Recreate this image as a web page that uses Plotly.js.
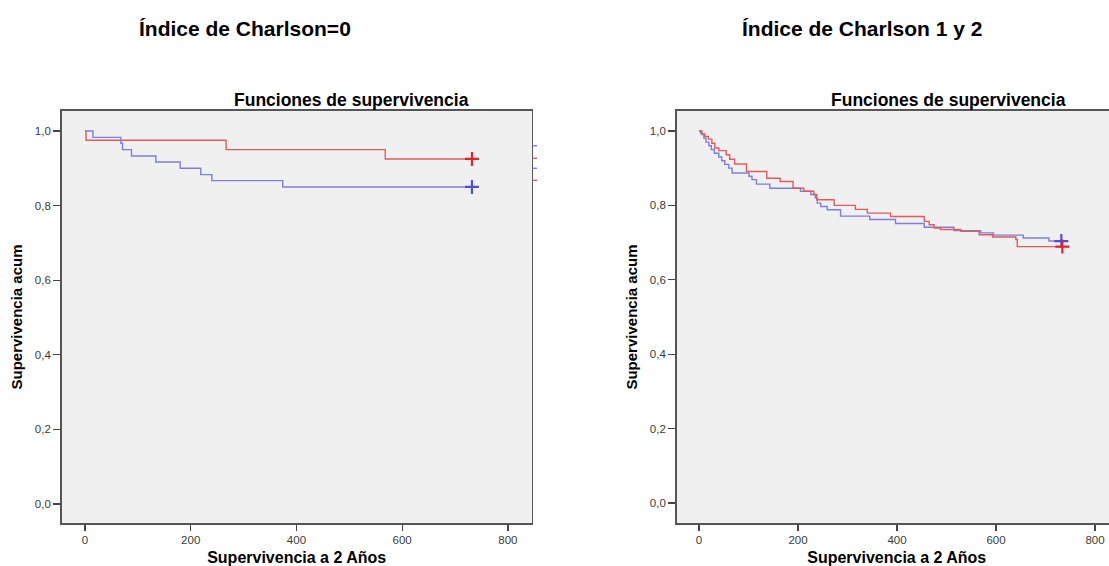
<!DOCTYPE html>
<html>
<head>
<meta charset="utf-8">
<script src="https://cdn.plot.ly/plotly-3.0.1.min.js"></script>
<style>
  html, body { margin: 0; padding: 0; background: #ffffff; overflow: hidden; }
  #chart { width: 1125px; height: 566px; }
</style>
</head>
<body>
<div id="chart"></div>
<script>
// Kaplan-Meier survival curves (days of follow-up, cumulative survival)

// Panel 1: Charlson index = 0
const c0RedDays = [0, 2, 267, 568, 732];
const c0RedSurv = [1.000, 0.975, 0.950, 0.925, 0.925];
const c0BlueDays = [0, 15, 68, 71, 88, 134, 180, 219, 240, 374, 732];
const c0BlueSurv = [1.000, 0.983, 0.967, 0.950, 0.933, 0.917, 0.900, 0.883, 0.867, 0.850, 0.850];

// Panel 2: Charlson index 1 and 2
const c12RedDays = [0, 6, 12, 19, 26, 32, 40, 55, 62, 72, 96, 137, 164, 190, 212, 232, 238, 273, 316, 340, 387, 455, 465, 475, 488, 529, 566, 593, 640, 643, 734];
const c12RedSurv = [1.000, 0.992, 0.985, 0.978, 0.967, 0.954, 0.947, 0.936, 0.924, 0.911, 0.891, 0.873, 0.864, 0.846, 0.838, 0.829, 0.815, 0.800, 0.789, 0.779, 0.770, 0.757, 0.748, 0.739, 0.735, 0.730, 0.721, 0.715, 0.708, 0.689, 0.689];
const c12BlueDays = [0, 3, 5, 10, 14, 20, 25, 31, 40, 46, 52, 60, 67, 101, 107, 116, 143, 205, 226, 235, 239, 246, 259, 286, 345, 397, 455, 515, 569, 595, 655, 707, 732];
const c12BlueSurv = [1.000, 0.995, 0.990, 0.980, 0.970, 0.960, 0.950, 0.940, 0.930, 0.920, 0.910, 0.900, 0.887, 0.878, 0.869, 0.857, 0.846, 0.838, 0.829, 0.820, 0.806, 0.797, 0.788, 0.771, 0.762, 0.751, 0.741, 0.732, 0.726, 0.720, 0.712, 0.704, 0.704];

const xTicks = [0, 200, 400, 600, 800];
const yTicks = [0, 0.2, 0.4, 0.6, 0.8, 1.0];

const panelTitles = ['Índice de Charlson=0', 'Índice de Charlson 1 y 2'];
const plotTitle = 'Funciones de supervivencia';
const xTitle = 'Supervivencia a 2 Años';
const yTitle = 'Supervivencia acum';

const RED_LINE = '#e05c5c';
const BLUE_LINE = '#7d7de2';
const RED_MARK = '#e8212b';
const BLUE_MARK = '#4d4ddf';

const W = 1125, H = 566;
const px = v => v / W;
const py = v => 1 - v / H;

function curve(x, y, color, xa, ya) {
  return { type: 'scatter', mode: 'lines', x: x, y: y, xaxis: xa, yaxis: ya,
    line: { color: color, width: 1.4, shape: 'hv' }, hoverinfo: 'skip', showlegend: false };
}
function censor(x, y, color, xa, ya) {
  return { type: 'scatter', mode: 'markers', x: [x[x.length - 1]], y: [y[y.length - 1]],
    xaxis: xa, yaxis: ya, showlegend: false, hoverinfo: 'skip',
    marker: { symbol: 'cross-thin', size: 10, line: { color: color, width: 2.2 } } };
}

const traces = [
  curve(c0RedDays, c0RedSurv, RED_LINE, 'x', 'y'),
  curve(c0BlueDays, c0BlueSurv, BLUE_LINE, 'x', 'y'),
  censor(c0RedDays, c0RedSurv, RED_MARK, 'x', 'y'),
  censor(c0BlueDays, c0BlueSurv, BLUE_MARK, 'x', 'y'),
  curve(c12BlueDays, c12BlueSurv, BLUE_LINE, 'x2', 'y2'),
  curve(c12RedDays, c12RedSurv, RED_LINE, 'x2', 'y2'),
  censor(c12BlueDays, c12BlueSurv, BLUE_MARK, 'x2', 'y2'),
  censor(c12RedDays, c12RedSurv, RED_MARK, 'x2', 'y2')
];

const tickFont = { family: 'Arial, Liberation Sans, sans-serif', size: 11.5, color: '#3a3a3a' };
const boldFont = (s) => ({ family: 'Arial, Liberation Sans, sans-serif', size: s, color: '#000000', weight: 'bold' });

function xAxis(domain, range, anchor) {
  return { domain: domain, range: range, anchor: anchor, tickvals: xTicks, tickformat: 'd',
    ticks: 'outside', ticklen: 6, tickwidth: 1.2, tickcolor: '#444', tickfont: tickFont,
    showline: true, linecolor: '#555', linewidth: 1.6, mirror: true,
    showgrid: false, zeroline: false, fixedrange: true,
    title: { text: xTitle, font: boldFont(16), standoff: 10 } };
}
function yAxis(domain, range, anchor) {
  return { domain: domain, range: range, anchor: anchor, tickvals: yTicks, tickformat: '.1f',
    ticks: 'outside', ticklen: 7, tickwidth: 1.2, tickcolor: '#444', tickfont: tickFont,
    showline: true, linecolor: '#555', linewidth: 1.6, mirror: true,
    showgrid: false, zeroline: false, fixedrange: true,
    title: { text: yTitle, font: boldFont(15), standoff: 8 } };
}

const yDom = [1 - 523 / H, 1 - 111 / H];

const layout = {
  width: W, height: H,
  margin: { l: 0, r: 0, t: 0, b: 0 },
  paper_bgcolor: '#ffffff',
  plot_bgcolor: '#f0f0f0',
  separators: ',.',
  showlegend: false,
  xaxis: xAxis([px(61.7), px(531.7)], [-44, 845], 'y'),
  yaxis: yAxis(yDom, [-0.051, 1.0536], 'x'),
  xaxis2: xAxis([px(676.7), px(1116.8)], [-45, 844], 'y2'),
  yaxis2: yAxis(yDom, [-0.054, 1.0536], 'x2'),
  annotations: [
    { text: panelTitles[0], x: px(245), y: py(28), xref: 'paper', yref: 'paper',
      xanchor: 'center', yanchor: 'middle', showarrow: false, font: boldFont(21) },
    { text: panelTitles[1], x: px(862), y: py(28), xref: 'paper', yref: 'paper',
      xanchor: 'center', yanchor: 'middle', showarrow: false, font: boldFont(21) },
    { text: plotTitle, x: px(351), y: py(100), xref: 'paper', yref: 'paper',
      xanchor: 'center', yanchor: 'middle', showarrow: false, font: boldFont(17.5) },
    { text: plotTitle, x: px(948), y: py(100), xref: 'paper', yref: 'paper',
      xanchor: 'center', yanchor: 'middle', showarrow: false, font: boldFont(17.5) }
  ],
  // clipped legend swatches beyond the first panel's frame
  shapes: [
    { type: 'line', xref: 'paper', yref: 'paper', x0: px(532.5), x1: px(537), y0: py(145.7), y1: py(145.7), line: { color: BLUE_LINE, width: 1.4 } },
    { type: 'line', xref: 'paper', yref: 'paper', x0: px(532.5), x1: px(537), y0: py(158.3), y1: py(158.3), line: { color: RED_LINE, width: 1.4 } },
    { type: 'line', xref: 'paper', yref: 'paper', x0: px(532.5), x1: px(537), y0: py(168.3), y1: py(168.3), line: { color: BLUE_LINE, width: 1.4 } },
    { type: 'line', xref: 'paper', yref: 'paper', x0: px(532.5), x1: px(537), y0: py(180.3), y1: py(180.3), line: { color: RED_LINE, width: 1.4 } }
  ]
};

Plotly.newPlot('chart', traces, layout, { displayModeBar: false, staticPlot: true });
</script>
</body>
</html>
